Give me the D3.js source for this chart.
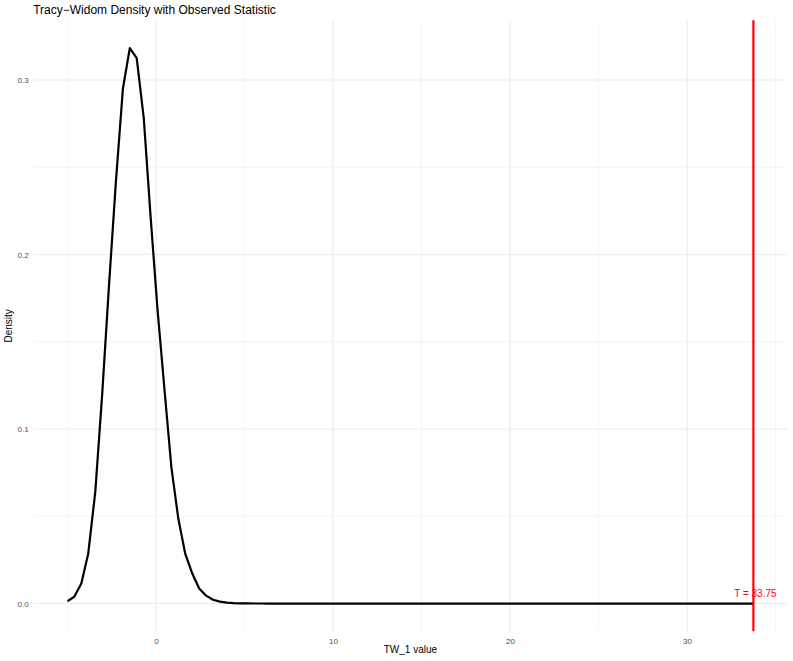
<!DOCTYPE html>
<html>
<head>
<meta charset="utf-8">
<script src="https://cdn.jsdelivr.net/npm/d3@7"></script>
<style>
  body { margin: 0; background: #fff; }
  text { font-family: "Liberation Sans", Arial, sans-serif; }
</style>
</head>
<body>
<div id="chart"></div>
<script>
// values
const twX = [-5.00, -4.61, -4.22, -3.83, -3.43, -3.04, -2.65, -2.26, -1.87, -1.48,
             -1.09, -0.69, -0.30, 0.09, 0.48, 0.87, 1.26, 1.65, 2.05, 2.44,
             2.83, 3.22, 3.61, 4.00, 4.39, 4.79, 5.18, 5.57, 5.96, 6.35, 6.74, 33.75];
const twDensity = [0.0013, 0.0040, 0.0115, 0.0285, 0.064, 0.120, 0.183, 0.2425, 0.295, 0.3183,
                   0.3125, 0.278, 0.221, 0.168, 0.1225, 0.078, 0.0487, 0.0286, 0.0172, 0.0086,
                   0.0045, 0.0022, 0.0011, 0.0005, 0.00025, 0.0001, 0.00005, 0.00002, 0.00001, 0, 0, 0];
const observedT = 33.75;
const xTicks = [0, 10, 20, 30];
const xMinor = [-5, 5, 15, 25, 35];
const yTicks = [0, 0.1, 0.2, 0.3];
const yMinor = [0.05, 0.15, 0.25];

const W = 793, H = 661;
const margin = { top: 20.3, right: 5.3, bottom: 29.7, left: 33.2 };

const svg = d3.select("#chart").append("svg")
    .attr("width", W)
    .attr("height", H);

const points = twX.map((x, i) => ({ x: x, y: twDensity[i] }));

// ggplot style 5% expansion
const xLo = d3.min(twX), xHi = observedT;
const xPad = (xHi - xLo) * 0.05;
const yHi = d3.max(twDensity), yLo = 0;
const yPad = (yHi - yLo) * 0.05;

const x = d3.scaleLinear()
    .domain([xLo - xPad, xHi + xPad])
    .range([margin.left, W - margin.right]);

const y = d3.scaleLinear()
    .domain([yLo - yPad, yHi + yPad])
    .range([H - margin.bottom, margin.top]);

const grid = svg.append("g");

grid.selectAll(".xminor").data(xMinor).join("line")
    .attr("x1", d => x(d)).attr("x2", d => x(d))
    .attr("y1", margin.top).attr("y2", H - margin.bottom)
    .attr("stroke", "#ebebeb").attr("stroke-width", 0.55);

grid.selectAll(".yminor").data(yMinor).join("line")
    .attr("x1", margin.left).attr("x2", W - margin.right)
    .attr("y1", d => y(d)).attr("y2", d => y(d))
    .attr("stroke", "#ebebeb").attr("stroke-width", 0.55);

grid.selectAll(".xmajor").data(xTicks).join("line")
    .attr("x1", d => x(d)).attr("x2", d => x(d))
    .attr("y1", margin.top).attr("y2", H - margin.bottom)
    .attr("stroke", "#ebebeb").attr("stroke-width", 1.1);

grid.selectAll(".ymajor").data(yTicks).join("line")
    .attr("x1", margin.left).attr("x2", W - margin.right)
    .attr("y1", d => y(d)).attr("y2", d => y(d))
    .attr("stroke", "#ebebeb").attr("stroke-width", 1.1);

// axes (no lines, only labels like theme_minimal)
const xAxis = svg.append("g")
    .attr("transform", `translate(0,${H - margin.bottom})`)
    .call(d3.axisBottom(x).tickValues(xTicks).tickSize(0).tickPadding(7).tickFormat(d3.format("d")));
const yAxis = svg.append("g")
    .attr("transform", `translate(${margin.left},0)`)
    .call(d3.axisLeft(y).tickValues(yTicks).tickSize(0).tickPadding(4.5).tickFormat(d3.format(".1f")));

[xAxis, yAxis].forEach(a => {
    a.select(".domain").remove();
    a.selectAll("text")
        .attr("fill", "#4d4d4d")
        .style("font-size", "8px")
        .style("font-family", "'Liberation Sans', Arial, sans-serif");
});

// density curve
const line = d3.line()
    .x(d => x(d.x))
    .y(d => y(d.y));

svg.append("path")
    .datum(points)
    .attr("fill", "none")
    .attr("stroke", "#000")
    .attr("stroke-width", 2.2)
    .attr("stroke-linejoin", "round")
    .attr("d", line);

// observed statistic
svg.append("line")
    .attr("x1", x(observedT)).attr("x2", x(observedT))
    .attr("y1", margin.top).attr("y2", H - margin.bottom)
    .attr("stroke", "#ff0000")
    .attr("stroke-width", 2.2);

svg.append("text")
    .attr("x", x(observedT) + 2)
    .attr("y", y(0) - 7)
    .attr("text-anchor", "middle")
    .attr("fill", "#ff0000")
    .style("font-size", "10px")
    .text("T = " + observedT.toFixed(2));

// titles
svg.append("text")
    .attr("x", margin.left)
    .attr("y", 14)
    .style("font-size", "12px")
    .attr("fill", "#000")
    .text("Tracy\u2212Widom Density with Observed Statistic");

svg.append("text")
    .attr("x", (margin.left + W - margin.right) / 2)
    .attr("y", H - 8)
    .attr("text-anchor", "middle")
    .style("font-size", "10px")
    .text("TW_1 value");

svg.append("text")
    .attr("transform", `translate(12,${(margin.top + H - margin.bottom) / 2}) rotate(-90)`)
    .attr("text-anchor", "middle")
    .style("font-size", "10px")
    .text("Density");
</script>
</body>
</html>
